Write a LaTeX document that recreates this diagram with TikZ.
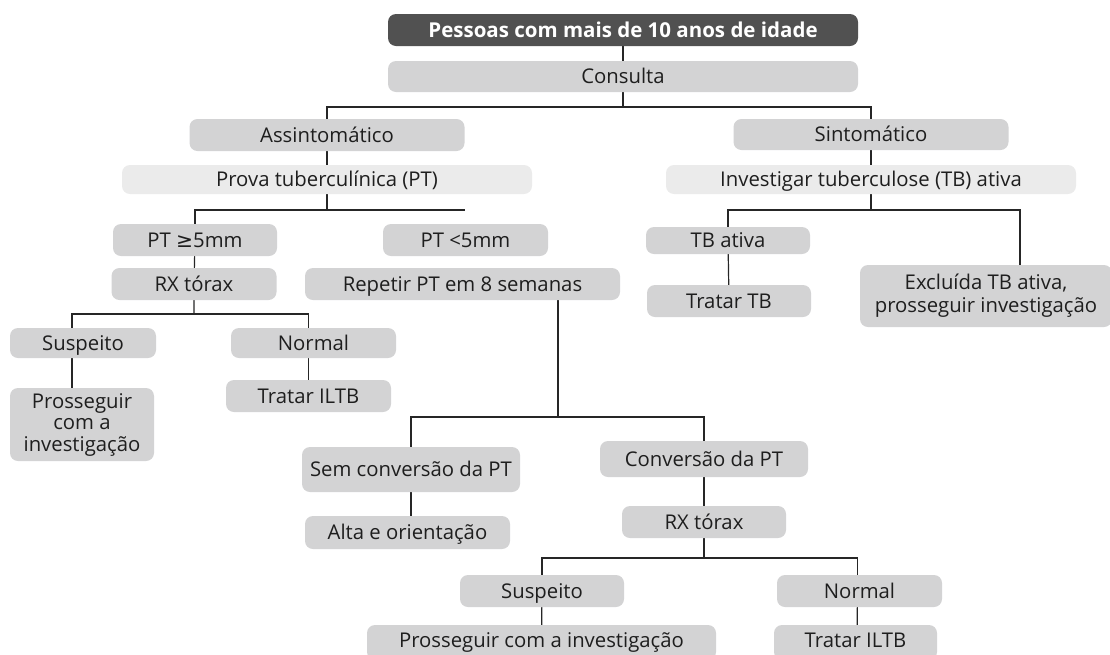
\documentclass[tikz,border=0pt]{standalone}
\usepackage{fontspec}
\setmainfont{Open Sans}
\newfontfamily\symfont{DejaVu Sans}
\usetikzlibrary{backgrounds}
\definecolor{boxgray}{HTML}{D3D3D4}
\definecolor{lightgray2}{HTML}{EBEBEB}
\definecolor{darkbox}{HTML}{515151}
\definecolor{txt}{HTML}{1E1E1E}
\definecolor{linec}{HTML}{262626}
\begin{document}
\begin{tikzpicture}[x=1pt,y=-1pt,
  every node/.style={font=\fontsize{20.3}{22}\selectfont, text=txt, inner sep=0pt, align=center, text height=14.5pt, text depth=0pt},
  multi/.style={text height={}, text depth={}},
  gbox/.style={rounded corners=8pt, fill=boxgray},
  lbox/.style={rounded corners=8pt, fill=lightgray2},
  dbox/.style={rounded corners=8pt, fill=darkbox, text=white, font=\fontsize{20.5}{22}\selectfont\bfseries},
  conn/.style={draw=linec, line width=1.2pt}
]
\useasboundingbox (0,0) rectangle (1110,654);

% nodes
\node[dbox, minimum width=470, minimum height=32] (top) at (623,30) {Pessoas com mais de 10 anos de idade};
\node[gbox, minimum width=470, minimum height=31] (cons) at (623,76.5) {Consulta};

\node[gbox, minimum width=275, minimum height=32] (asym) at (327,135) {Assintomático};
\node[lbox, minimum width=410, minimum height=29] (prova) at (327,179.5) {Prova tuberculínica (PT)};

\node[gbox, minimum width=275, minimum height=31] (sym) at (871,134.5) {Sintomático};
\node[lbox, minimum width=410, minimum height=29] (inv) at (871,179.5) {Investigar tuberculose (TB) ativa};

\node[gbox, minimum width=164, minimum height=32] (pt5) at (195,240) {PT {\symfont ≥}5mm};
\node[gbox, minimum width=165, minimum height=32] (rx1) at (194,284) {RX tórax};
\node[gbox, minimum width=146, minimum height=30] (susp1) at (83,343) {Suspeito};
\node[gbox, multi, minimum width=144, minimum height=73, font=\fontsize{20.3}{21.5}\selectfont] (pros1) at (82,424.5) {Prosseguir\\com a\\investigação};
\node[gbox, minimum width=165, minimum height=30] (norm1) at (313.5,343) {Normal};
\node[gbox, minimum width=165, minimum height=32] (trat1) at (308.5,396) {Tratar ILTB};

\node[gbox, minimum width=165, minimum height=32] (ptl5) at (465.5,240) {PT <5mm};
\node[gbox, minimum width=315, minimum height=32] (rep) at (462.5,284) {Repetir PT em 8 semanas};

\node[gbox, minimum width=218, minimum height=45] (sem) at (411,469.5) {Sem conversão da PT};
\node[gbox, minimum width=205, minimum height=33] (alta) at (407.5,532.5) {Alta e orientação};
\node[gbox, minimum width=208, minimum height=36] (conv) at (704,459) {Conversão da PT};
\node[gbox, minimum width=164, minimum height=32] (rx2) at (704,522) {RX tórax};
\node[gbox, minimum width=164, minimum height=32] (susp2) at (542,591) {Suspeito};
\node[gbox, minimum width=165, minimum height=32] (norm2) at (859.5,591) {Normal};
\node[gbox, minimum width=349, minimum height=35] (pros2) at (541.5,642.5) {\raisebox{2.5pt}{Prosseguir com a investigação}};
\node[gbox, minimum width=163, minimum height=35] (trat2) at (855.5,642.5) {\raisebox{2.5pt}{Tratar ILTB}};

\node[gbox, minimum width=164, minimum height=27] (tbat) at (728,240.5) {TB ativa};
\node[gbox, minimum width=164, minimum height=32] (tratb) at (729,301) {Tratar TB};
\node[gbox, multi, minimum width=252, minimum height=62, font=\fontsize{20.3}{23}\selectfont] (excl) at (986,296) {Excluída TB ativa,\\prosseguir investigação};

% junction coordinates
\coordinate (j1) at (623,107);
\coordinate (j2) at (327,210);
\coordinate (j2e) at (465,210);
\coordinate (j3) at (194,314);
\coordinate (j4) at (871,210);
\coordinate (j5) at (558,417);
\coordinate (j6) at (704,558);

\begin{scope}[on background layer]
\draw[conn] (top) -- (cons) -- (j1);
\draw[conn] (asym) |- (j1) -| (sym);
\draw[conn] (asym) -- (prova) -- (j2);
\draw[conn] (pt5) |- (j2) -- (j2e);
\draw[conn] (pt5) -- (rx1) -- (j3);
\draw[conn] ([xshift=-11pt]susp1.center) |- (j3) -| ([xshift=-5pt]norm1.center);
\draw[conn] ([xshift=-11pt]susp1.center) -- ([xshift=-10pt]pros1.center);
\draw[conn] ([xshift=-5pt]norm1.center) -- (trat1.center);
\draw[conn] (sym) -- (inv) -- (j4);
\draw[conn] (tbat) |- (j4) -| ([xshift=34pt]excl.center);
\draw[conn] (tbat) -- (tratb);
\draw[conn] ([xshift=95.5pt]rep.center) |- (j5);
\draw[conn] (sem) |- (j5) -| (conv);
\draw[conn] (sem.center) -- (sem.center |- alta.center);
\draw[conn] (conv) -- (rx2) -- (j6);
\draw[conn] (susp2) |- (j6) -| ([xshift=-2pt]norm2.center);
\draw[conn] (susp2) -- (pros2);
\draw[conn] ([xshift=-2pt]norm2.center) -- ([xshift=1.5pt]trat2.center);
\end{scope}
\end{tikzpicture}
\end{document}
